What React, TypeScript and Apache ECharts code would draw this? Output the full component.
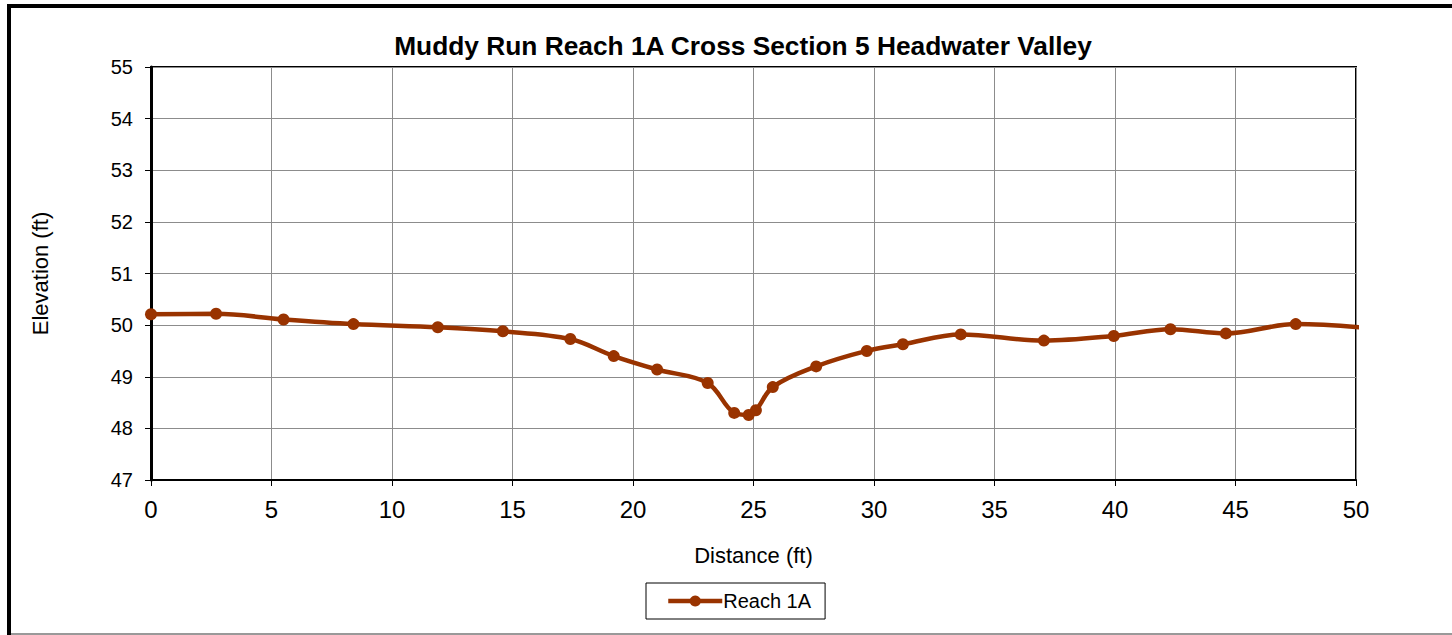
import React, { useEffect, useRef } from "react";
import * as echarts from "echarts";

const distance = [0, 2.7, 5.5, 8.4, 11.9, 14.6, 17.4, 19.2, 21.0, 23.1, 24.2, 24.8, 25.1, 25.8, 27.6, 29.7, 31.2, 33.6, 37.05, 39.95, 42.3, 44.6, 47.5, 51.5];
const elevation = [50.21, 50.22, 50.11, 50.02, 49.96, 49.88, 49.73, 49.4, 49.14, 48.88, 48.3, 48.26, 48.35, 48.8, 49.2, 49.5, 49.63, 49.82, 49.7, 49.79, 49.92, 49.84, 50.02, 49.9];
const seriesName = "Reach 1A";
const title = "Muddy Run Reach 1A Cross Section 5 Headwater Valley";

export default function App() {
  const ref = useRef<HTMLDivElement>(null);
  useEffect(() => {
    document.body.style.margin = "0";
    const chart = echarts.init(ref.current!, null, { renderer: "svg" });
    const data = distance.map((d, i) => [d, elevation[i]]);
    chart.setOption({
      animation: false,
      backgroundColor: "#fff",
      textStyle: { fontFamily: "Liberation Sans, Arial, sans-serif" },
      title: {
        text: title,
        left: 738,
        top: 28,
        textAlign: "center",
        textStyle: { fontSize: 26.3, fontWeight: "bold", color: "#000", fontFamily: "Liberation Sans, Arial, sans-serif" },
      },
      grid: { left: 151, right: 96, top: 67, bottom: 155, show: true, borderColor: "#000", borderWidth: 2 },
      xAxis: {
        type: "value",
        min: 0,
        max: 50,
        interval: 5,
        name: "Distance (ft)",
        nameLocation: "middle",
        nameGap: 64,
        nameTextStyle: { fontSize: 22, color: "#000" },
        axisLine: { onZero: false, lineStyle: { color: "#000", width: 2 } },
        axisTick: { show: true, length: 6, lineStyle: { color: "#000" } },
        axisLabel: { fontSize: 24, color: "#000", margin: 17 },
        splitLine: { show: true, lineStyle: { color: "#8c8c8c", width: 1 } },
      },
      yAxis: {
        type: "value",
        min: 47,
        max: 55,
        interval: 1,
        name: "Elevation (ft)",
        nameLocation: "middle",
        nameGap: 100,
        nameTextStyle: { fontSize: 22, color: "#000" },
        axisLine: { onZero: false, lineStyle: { color: "#000", width: 3 } },
        axisTick: { show: true, length: 6, lineStyle: { color: "#000" } },
        axisLabel: { fontSize: 20, color: "#000", margin: 18 },
        splitLine: { show: true, lineStyle: { color: "#8c8c8c", width: 1 } },
      },
      legend: {
        data: [seriesName],
        left: 646,
        top: 583,
        padding: [8, 14, 8, 20],
        borderColor: "#000",
        borderWidth: 1,
        itemWidth: 54,
        itemHeight: 14,
        itemGap: 0,
        lineStyle: { width: 4.5 },
        textStyle: { fontSize: 20, color: "#000", padding: [0, 0, 0, -4] },
      },
      series: [
        {
          name: seriesName,
          type: "line",
          data,
          smooth: 0.35,
          clip: true,
          symbol: "circle",
          symbolSize: 12,
          showAllSymbol: true,
          lineStyle: { color: "#993300", width: 4.5 },
          itemStyle: { color: "#993300" },
        },
      ],
      graphic: [
        { type: "line", shape: { x1: 9, y1: 4, x2: 9, y2: 635 }, style: { stroke: "#000", lineWidth: 4 } },
        { type: "line", shape: { x1: 7, y1: 6, x2: 1452, y2: 6 }, style: { stroke: "#000", lineWidth: 4 } },
        { type: "line", shape: { x1: 11, y1: 634, x2: 1452, y2: 634 }, style: { stroke: "#999", lineWidth: 2 } },
      ],
    });
    return () => chart.dispose();
  }, []);
  return <div ref={ref} style={{ width: 1452, height: 635 }} />;
}
